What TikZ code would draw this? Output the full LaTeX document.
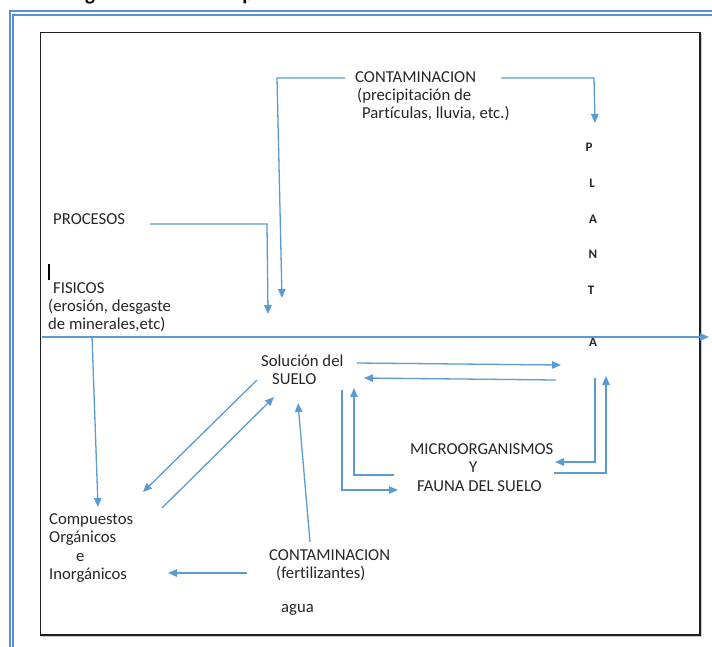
\documentclass[tikz,border=0pt]{standalone}
\usepackage{fontspec}
\setmainfont{Carlito}[Ligatures=NoCommon]
\usetikzlibrary{arrows.meta}
\definecolor{lineblue}{HTML}{5B9BD5}
\definecolor{frameblue}{HTML}{5A8FD8}
\definecolor{inkgray}{HTML}{262626}
\tikzset{
  txt/.style={font=\fontsize{16.7}{18.4}\selectfont, text=inkgray, inner sep=0pt, anchor=base west, align=left},
  letter/.style={font=\fontsize{13}{14}\selectfont\bfseries, text=inkgray, inner sep=0pt, anchor=center},
  link/.style={draw=lineblue, line width=1.3pt},
  arr/.style={link, -{Triangle[length=9pt, width=7.5pt]}},
}
\begin{document}
\begin{tikzpicture}[x=1pt, y=-1pt]
\useasboundingbox (0,0) rectangle (712,646);
\fill[white] (0,0) rectangle (712,646);

% heading of the page, cut by the top edge
\begin{scope}
  \clip (0,0) rectangle (712,646);
  \node[font=\fontsize{21}{24}\selectfont\bfseries, inner sep=0pt, anchor=base] (hg) at (90,0.5) {g};
  \node[font=\fontsize{21}{24}\selectfont\bfseries, inner sep=0pt, anchor=base] (hp) at (248,0.5) {p};
\end{scope}

% double page border
\draw[frameblue, line width=1.8pt] (9.7,650) -- (9.7,10.9) -- (716,10.9);
\draw[frameblue, line width=1.8pt] (13.3,650) -- (13.3,14.7) -- (716,14.7);

% diagram frame
\draw[black!20, line width=1.2pt] (42,636.5) -- (701.5,636.5) -- (701.5,34);
\draw[black!88, line width=1.3pt] (40.3,32.3) rectangle (700,635);

% texts (multi-line nodes sit on the baseline of their last line)
\node[txt] (ctop) at (355,118.8) {CONTAMINACION\\\hspace*{2pt}(precipitación de\\\hspace*{7pt}Partículas, lluvia, etc.)};
\node[txt] (proc) at (53,224.4) {PROCESOS};
\node[txt] (fis) at (48,329.8) {\hspace*{5pt}FISICOS\\(erosión, desgaste\\de minerales,etc)};
\node[txt] (sol) at (261,384.4) {Solución del\\\hspace*{11pt}SUELO};
\node[txt] (micro) at (410,491.3) {MICROORGANISMOS\\\hspace*{59pt}Y\\\hspace*{7pt}FAUNA DEL SUELO};
\node[txt] (comp) at (49,579.7) {Compuestos\\Orgánicos\\\hspace*{27pt}e\\Inorgánicos};
\node[txt] (cbot) at (269,578.9) {CONTAMINACION\\\hspace*{7pt}(fertilizantes)};
\node[txt] (agua) at (281,612) {agua};

% vertical word
\node[letter] (p1) at (589,147) {P};
\node[letter] (p2) at (592,183) {L};
\node[letter] (p3) at (593,219) {A};
\node[letter] (p4) at (593,254) {N};
\node[letter] (p5) at (591,290) {T};
\node[letter] (p6) at (593,342) {A};

% text cursor mark
\draw[black, line width=2pt] (49,264) -- (49,280);

% connector end points
\coordinate (ctL) at (345,78);   \coordinate (ctLc) at (277,78);  \coordinate (ctLe) at (282,298);
\coordinate (ctR) at (501,78);   \coordinate (ctRc) at (594,78);  \coordinate (ctRe) at (595,123);
\coordinate (prS) at (150,224);  \coordinate (prC) at (267,224);  \coordinate (prE) at (268,314);
\coordinate (fiS) at (92,336);   \coordinate (fiE) at (98,507);
\coordinate (hzS) at (42,337);   \coordinate (hzE) at (709,337);
\coordinate (soR) at (357,363);  \coordinate (plL) at (561,365);
\coordinate (plR) at (556,380);  \coordinate (soB) at (364,378);
\coordinate (plD) at (595,378);  \coordinate (plDc) at (595,462); \coordinate (miR) at (555,462);
\coordinate (miS) at (554,473);  \coordinate (miSc) at (606,473); \coordinate (plU) at (606,376);
\coordinate (soD) at (342,390);  \coordinate (soDc) at (342,490); \coordinate (faL) at (398,490);
\coordinate (miL) at (394,475);  \coordinate (miLc) at (354,475); \coordinate (soU) at (354,388);
\coordinate (soDL) at (257,380); \coordinate (coU) at (143,492);
\coordinate (coS) at (162,508);  \coordinate (soDL2) at (274,397);
\coordinate (cbU) at (310,542);  \coordinate (soBot) at (298,403);
\coordinate (cbL) at (247,573);  \coordinate (coR) at (168,573);

% connectors
\draw[arr] (ctL) -- (ctLc) -- (ctLe);
\draw[arr] (ctR) -- (ctRc) -- (ctRe);
\draw[arr] (prS) -- (prC) -- (prE);
\draw[arr] (fiS) -- (fiE);
\draw[arr] (hzS) -- (hzE);
\draw[arr] (soR) -- (plL);
\draw[arr] (plR) -- (soB);
\draw[arr] (plD) -- (plDc) -- (miR);
\draw[arr] (miS) -- (miSc) -- (plU);
\draw[arr] (soD) -- (soDc) -- (faL);
\draw[arr] (miL) -- (miLc) -- (soU);
\draw[arr] (soDL) -- (coU);
\draw[arr] (coS) -- (soDL2);
\draw[arr] (cbU) -- (soBot);
\draw[arr] (cbL) -- (coR);
\end{tikzpicture}
\end{document}
